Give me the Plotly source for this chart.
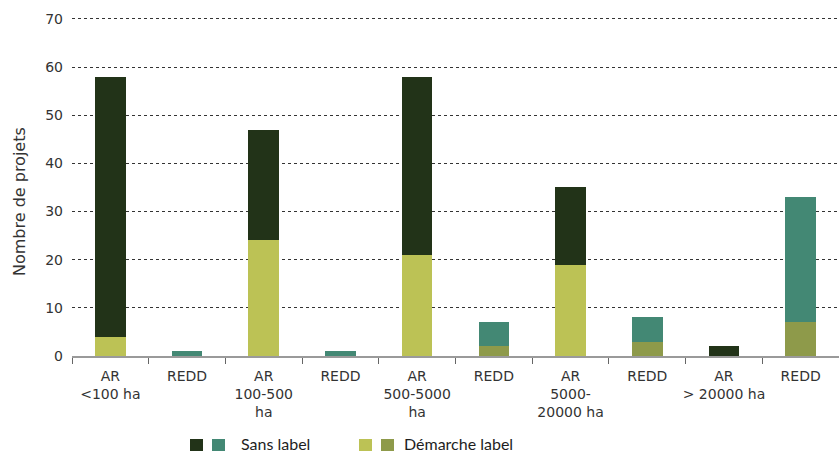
import plotly.graph_objects as go

# Project counts per size class (AR) and REDD, split by labelling status
categories = ["AR<br><100 ha", "REDD", "AR<br>100-500<br>ha", "REDD",
              "AR<br>500-5000<br>ha", "REDD", "AR<br>5000-<br>20000 ha", "REDD",
              "AR<br>> 20000 ha", "REDD"]
ar_demarche = [4, None, 24, None, 21, None, 19, None, 0, None]
ar_sans = [54, None, 23, None, 37, None, 16, None, 2, None]
redd_demarche = [None, 0, None, 0, None, 2, None, 3, None, 7]
redd_sans = [None, 1, None, 1, None, 5, None, 5, None, 26]

C_AR_SANS = "#223318"
C_REDD_SANS = "#438874"
C_AR_DEM = "#BCC255"
C_REDD_DEM = "#8E9A4A"

TICK_FONT = "'DejaVu Sans', sans-serif"
LEG_FONT = "Lato, 'Open Sans', sans-serif"
TXT = "#333333"

x = list(range(len(categories)))

fig = go.Figure()
for vals, col in [(ar_demarche, C_AR_DEM), (ar_sans, C_AR_SANS),
                  (redd_demarche, C_REDD_DEM), (redd_sans, C_REDD_SANS)]:
    fig.add_trace(go.Bar(x=x, y=vals, marker=dict(color=col, line=dict(width=0)),
                         width=0.4, showlegend=False, hoverinfo="y"))

# plot area: x 72..839 px, y 0 -> 356 px, 70 -> 19 px
fig.update_layout(
    barmode="stack",
    width=839, height=453,
    margin=dict(l=72, r=0, t=17, b=97),
    plot_bgcolor="white", paper_bgcolor="white",
    font=dict(family=TICK_FONT, size=14, color=TXT),
)

fig.update_xaxes(
    range=[-0.5, 9.5],
    tickmode="array", tickvals=x, ticktext=categories,
    ticks="", showgrid=False, ticklabelstandoff=6,
    showline=True, linecolor="#9a9a9a", linewidth=2,
    tickfont=dict(family=TICK_FONT, size=14, color=TXT),
    minor=dict(tick0=0.5, dtick=1, ticks="outside", ticklen=6,
               tickcolor="#666666", tickwidth=1, showgrid=False),
)
fig.update_yaxes(
    range=[0, 70.4], tickvals=[0, 10, 20, 30, 40, 50, 60, 70],
    showgrid=True, gridcolor="#333333", gridwidth=1, griddash="3px,3px",
    zeroline=False, showline=False, ticks="", ticklabelstandoff=8,
    tickfont=dict(family=TICK_FONT, size=14, color=TXT),
)

def px2paper_x(px):
    return (px - 72) / 767

def px2paper_y(py):
    return (356 - py) / (356 - 17)

# axis title
fig.add_annotation(xref="paper", yref="paper", x=px2paper_x(19), y=px2paper_y(202),
                   text="Nombre de projets", textangle=-90, showarrow=False,
                   xanchor="center", yanchor="middle",
                   font=dict(family=TICK_FONT, size=16, color=TXT))

# Custom legend: two swatches per entry
swatches = [(190, C_AR_SANS), (212, C_REDD_SANS), (359, C_AR_DEM), (381, C_REDD_DEM)]
for sx, col in swatches:
    fig.add_shape(type="rect", xref="paper", yref="paper",
                  x0=px2paper_x(sx), x1=px2paper_x(sx + 13),
                  y0=px2paper_y(451), y1=px2paper_y(439),
                  fillcolor=col, line=dict(width=0))

for tx, label in [(239, "Sans label"), (402, "Démarche label")]:
    fig.add_annotation(xref="paper", yref="paper", x=px2paper_x(tx), y=px2paper_y(443),
                       text=label, showarrow=False, xanchor="left", yanchor="middle",
                       font=dict(family=LEG_FONT, size=16, color="#1e1e1e"))

fig.write_html("out.html")
